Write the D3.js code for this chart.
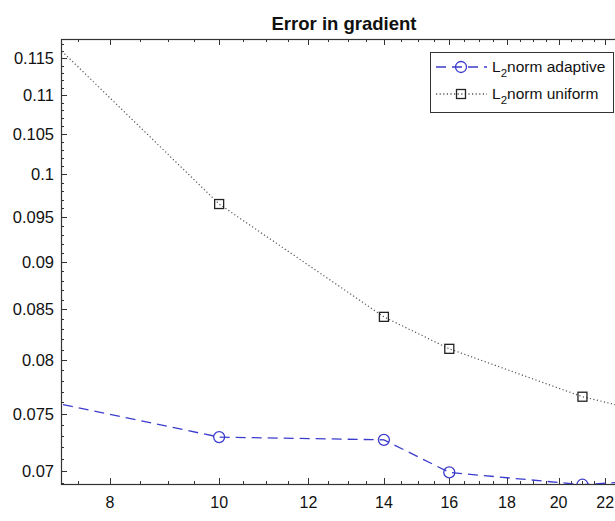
<!DOCTYPE html>
<meta charset="utf-8">
<script src="https://d3js.org/d3.v7.min.js"></script>
<style>
  body { margin: 0; background: #fff; }
  text { font-family: "Liberation Sans", Arial, sans-serif; fill: #111; }
</style>
<div id="chart"></div>
<script>
// data; end points lie outside the visible axes
var xValues = [6, 10, 14, 16, 21, 24];
var adaptive = [0.0776, 0.0729, 0.07266, 0.06987, 0.06884, 0.0692];
var uniform = [0.1293, 0.0965, 0.08425, 0.08107, 0.07653, 0.0751];
var xTicks = [8, 10, 12, 14, 16, 18, 20, 22];
var yTicks = [0.07, 0.075, 0.08, 0.085, 0.09, 0.095, 0.1, 0.105, 0.11, 0.115];
var seriesNames = ["norm adaptive", "norm uniform"];

var W = 615, H = 521;
var pLeft = 61, pTop = 39, pRight = 627, pBottom = 484;

var svg = d3.select("#chart").append("svg")
  .attr("width", W).attr("height", H);

var x = d3.scaleLog().domain([7.24, 23]).range([pLeft, pRight]);
var y = d3.scaleLog().domain([0.0689, 0.1177]).range([pBottom, pTop]);

svg.append("defs").append("clipPath").attr("id", "clip")
  .append("rect")
  .attr("x", pLeft).attr("y", pTop)
  .attr("width", pRight - pLeft).attr("height", pBottom - pTop);

var axisColor = "#333";

// minor ticks
var xMinor = d3.range(7.5, 23.01, 0.5);
var yMinor = d3.range(69, 118).map(d => d / 1000);

var ticks = svg.append("g").attr("stroke", axisColor).attr("stroke-width", 1);
xMinor.forEach(function(v) {
  var px = Math.round(x(v)) + 0.5;
  var len = xTicks.indexOf(v) >= 0 ? 6 : 3;
  ticks.append("line").attr("x1", px).attr("x2", px).attr("y1", pBottom).attr("y2", pBottom - len);
  ticks.append("line").attr("x1", px).attr("x2", px).attr("y1", pTop).attr("y2", pTop + len);
});
yMinor.forEach(function(v) {
  var py = Math.round(y(v)) + 0.5;
  var major = yTicks.some(t => Math.abs(t - v) < 1e-9);
  var len = major ? 6 : 3;
  ticks.append("line").attr("x1", pLeft).attr("x2", pLeft + len).attr("y1", py).attr("y2", py);
  ticks.append("line").attr("x1", pRight).attr("x2", pRight - len).attr("y1", py).attr("y2", py);
});

// axes box
svg.append("rect")
  .attr("x", pLeft + 0.5).attr("y", pTop + 0.5)
  .attr("width", pRight - pLeft).attr("height", pBottom - pTop)
  .attr("fill", "none").attr("stroke", axisColor).attr("stroke-width", 1.2);

// tick labels
svg.append("g").selectAll("text").data(xTicks).join("text")
  .attr("x", d => x(d)).attr("y", 508)
  .attr("text-anchor", "middle").attr("font-size", 16)
  .text(d => d);

svg.append("g").selectAll("text").data(yTicks).join("text")
  .attr("x", 54).attr("y", d => y(d) + 6)
  .attr("text-anchor", "end").attr("font-size", 16.5)
  .text(d => +d.toFixed(3));

// title
svg.append("text")
  .attr("x", (pLeft + pRight) / 2).attr("y", 30)
  .attr("text-anchor", "middle").attr("font-size", 18.5).attr("font-weight", "bold")
  .text("Error in gradient");

var blue = "#3c3ccc";
var line = d3.line().x((d, i) => x(xValues[i])).y(d => y(d));

var plot = svg.append("g").attr("clip-path", "url(#clip)");

plot.append("path").datum(uniform)
  .attr("d", line).attr("fill", "none")
  .attr("stroke", "#555").attr("stroke-width", 1.2).attr("stroke-dasharray", "1.2,2.4");

plot.append("path").datum(adaptive)
  .attr("d", line).attr("fill", "none")
  .attr("stroke", blue).attr("stroke-width", 1.3).attr("stroke-dasharray", "10,6");

plot.selectAll(".sq").data(uniform).join("rect").attr("class", "sq")
  .attr("x", (d, i) => x(xValues[i]) - 4.5).attr("y", d => y(d) - 4.5)
  .attr("width", 9).attr("height", 9)
  .attr("fill", "none").attr("stroke", "#222").attr("stroke-width", 1.3);

plot.selectAll(".ci").data(adaptive).join("circle").attr("class", "ci")
  .attr("cx", (d, i) => x(xValues[i])).attr("cy", d => y(d)).attr("r", 5.5)
  .attr("fill", "none").attr("stroke", blue).attr("stroke-width", 1.3);

// legend
var lg = svg.append("g");
lg.append("rect")
  .attr("x", 430.5).attr("y", 52.5).attr("width", 183).attr("height", 60)
  .attr("fill", "#fff").attr("stroke", axisColor).attr("stroke-width", 1);

var rows = [
  {name: seriesNames[0], yy: 67, color: blue, dash: "10,6", marker: "circle"},
  {name: seriesNames[1], yy: 94, color: "#555", dash: "1.2,2.4", marker: "square"}
];
rows.forEach(function(r) {
  lg.append("line")
    .attr("x1", 436).attr("x2", 487).attr("y1", r.yy).attr("y2", r.yy)
    .attr("stroke", r.color).attr("stroke-width", 1.3).attr("stroke-dasharray", r.dash);
  if (r.marker === "circle") {
    lg.append("circle").attr("cx", 461).attr("cy", r.yy).attr("r", 5.5)
      .attr("fill", "none").attr("stroke", r.color).attr("stroke-width", 1.3);
  } else {
    lg.append("rect").attr("x", 456.5).attr("y", r.yy - 4.5).attr("width", 9).attr("height", 9)
      .attr("fill", "none").attr("stroke", "#222").attr("stroke-width", 1.3);
  }
  var t = lg.append("text").attr("x", 492).attr("y", r.yy + 5).attr("font-size", 15.5);
  t.append("tspan").text("L");
  t.append("tspan").attr("dy", 5).attr("font-size", 11.5).text("2");
  t.append("tspan").attr("dy", -5).text(r.name);
});
</script>
